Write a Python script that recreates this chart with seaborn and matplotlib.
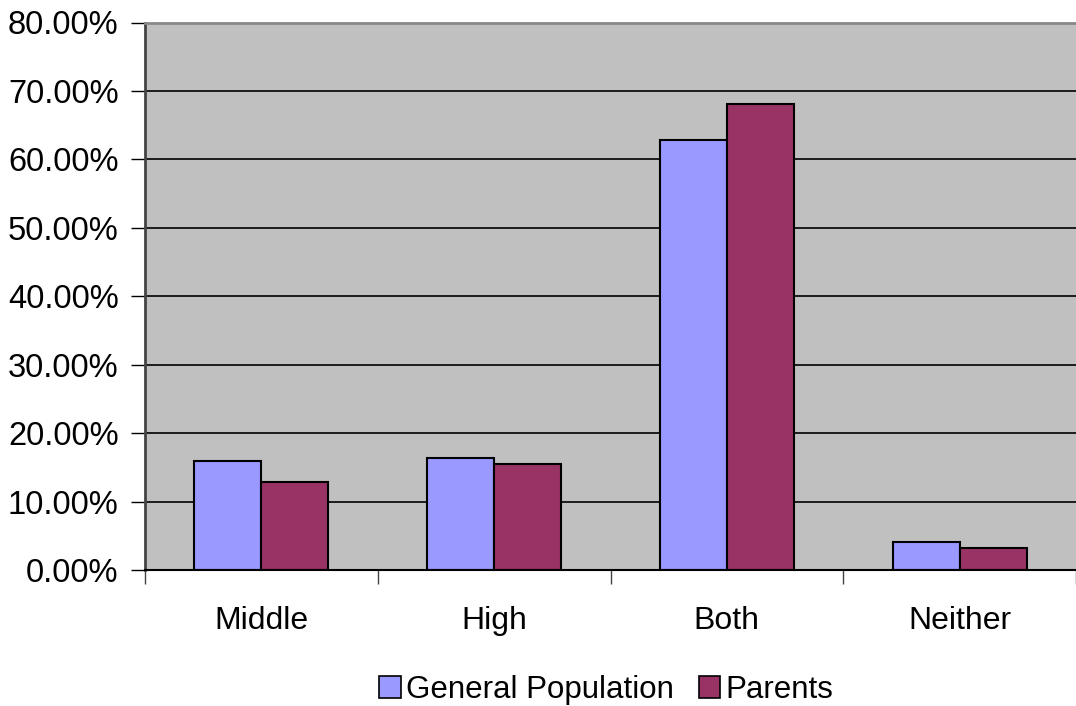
import matplotlib
matplotlib.use("Agg")
import matplotlib.pyplot as plt
import seaborn as sns
import pandas as pd
from matplotlib.ticker import FuncFormatter, FixedLocator
from matplotlib.patches import Patch

categories = ["Middle", "High", "Both", "Neither"]
series = ["General Population", "Parents"]
general_population = [16.0, 16.3, 62.9, 4.05]
parents = [12.9, 15.5, 68.1, 3.2]
y_ticks = [0, 10, 20, 30, 40, 50, 60, 70, 80]

df = pd.DataFrame({
    "category": categories * 2,
    "group": [series[0]] * 4 + [series[1]] * 4,
    "value": general_population + parents,
})

sns.set_theme(style="white")
plt.rcParams["font.family"] = ["Liberation Sans", "DejaVu Sans"]
plt.rcParams["text.color"] = "black"
plt.rcParams["xtick.color"] = "black"
plt.rcParams["ytick.color"] = "black"

colors = {"General Population": "#9999FF", "Parents": "#993366"}

fig = plt.figure(figsize=(10.76, 7.06), dpi=100)
ax = fig.add_axes([145 / 1076, 1 - 570 / 706, 1 - 145 / 1076, (570 - 22.5) / 706])
ax.set_facecolor("#C0C0C0")

sns.barplot(data=df, x="category", y="value", hue="group", order=categories,
            hue_order=series, palette=colors, width=0.575, gap=0,
            edgecolor="black", linewidth=1.5, saturation=1, ax=ax, legend=False)

ax.set_xlim(-0.5, 3.5)
ax.set_ylim(0, 80)
ax.set_yticks(y_ticks)
ax.yaxis.set_major_formatter(FuncFormatter(lambda v, _: f"{v:.2f}%"))
ax.yaxis.grid(True, color="black", linewidth=1.2)
ax.set_axisbelow(True)

ax.set_xlabel("")
ax.set_ylabel("")
ax.tick_params(axis="y", direction="out", length=10, width=1, color="black",
               labelsize=23.5, labelcolor="black", pad=9, left=True)
ax.tick_params(axis="x", which="major", length=0, labelsize=23,
               labelcolor="black", pad=26)
ax.xaxis.set_minor_locator(FixedLocator([-0.5, 0.5, 1.5, 2.5, 3.5]))
ax.tick_params(axis="x", which="minor", direction="out", length=10, width=1,
               color="#444444", bottom=True)

ax.spines["left"].set_color("#444444")
ax.spines["left"].set_linewidth(2)
ax.spines["bottom"].set_color("black")
ax.spines["bottom"].set_linewidth(1.5)
ax.spines["top"].set_color("#888888")
ax.spines["top"].set_linewidth(2)
ax.spines["right"].set_visible(False)

handles = [Patch(facecolor=colors[s], edgecolor="black", linewidth=1.2, label=s)
           for s in series]
fig.legend(handles=handles, loc="center", bbox_to_anchor=(606 / 1076, 1 - 690 / 706),
           ncol=2, frameon=False, fontsize=22.5, handlelength=0.7, handleheight=0.7,
           handletextpad=0.15, columnspacing=0.8, labelcolor="black")

fig.savefig("out.png", dpi=100)
